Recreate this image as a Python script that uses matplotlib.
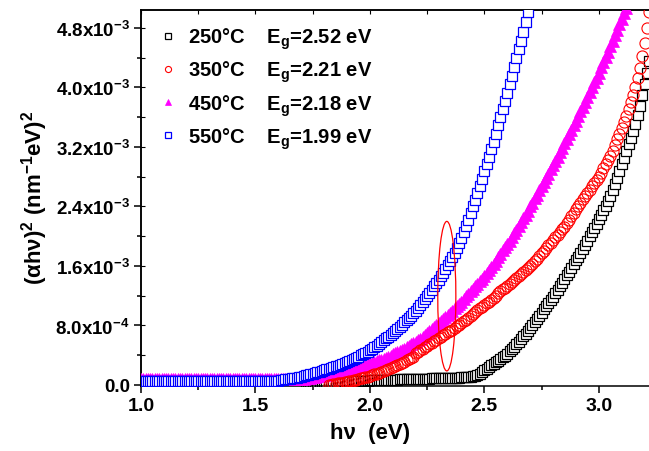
import numpy as np
import matplotlib
matplotlib.use('Agg')
import matplotlib.pyplot as plt
from matplotlib.patches import Ellipse
from matplotlib.ticker import FixedLocator

plt.rcParams['font.family'] = ['Liberation Sans', 'DejaVu Sans']
plt.rcParams['font.weight'] = 'bold'
plt.rcParams['mathtext.fontset'] = 'custom'
plt.rcParams['mathtext.rm'] = 'Liberation Sans:bold'
plt.rcParams['mathtext.it'] = 'Liberation Sans:bold'
plt.rcParams['mathtext.bf'] = 'Liberation Sans:bold'
plt.rcParams['mathtext.default'] = 'rm'

# photon energy grid: first point (eV) and step of the readings
step = 0.01

# 250 C, starts at 1.72 eV, values in 1e-3 units
start_250 = 1.72
y_250 = [0.000, 0.002, 0.004, 0.006, 0.008, 0.010, 0.012, 0.015,
         0.018, 0.021, 0.024, 0.027, 0.030, 0.033, 0.035, 0.037, 0.039, 0.041,
         0.043, 0.045, 0.047, 0.049, 0.051, 0.053, 0.055, 0.057, 0.059, 0.060,
         0.061, 0.062, 0.063, 0.064, 0.065, 0.066, 0.067, 0.068, 0.069, 0.070,
         0.071, 0.072, 0.073, 0.074, 0.075, 0.076, 0.077, 0.078, 0.079, 0.080,
         0.081, 0.082, 0.083, 0.084, 0.085, 0.086, 0.087, 0.088, 0.089, 0.090,
         0.091, 0.092, 0.093, 0.094, 0.095, 0.096, 0.097, 0.098, 0.099, 0.100,
         0.101, 0.103, 0.105, 0.108, 0.112, 0.118, 0.126, 0.137, 0.152, 0.172,
         0.195, 0.218, 0.240, 0.262, 0.284, 0.305, 0.327, 0.349, 0.372, 0.396,
         0.420, 0.451, 0.482, 0.514, 0.546, 0.580, 0.616, 0.652, 0.690, 0.728,
         0.768, 0.808, 0.848, 0.890, 0.932, 0.974, 1.016, 1.058, 1.100, 1.142,
         1.184, 1.232, 1.280, 1.328, 1.376, 1.424, 1.474, 1.524, 1.574, 1.624,
         1.674, 1.726, 1.778, 1.832, 1.886, 1.940, 1.996, 2.052, 2.110, 2.168,
         2.226, 2.286, 2.348, 2.412, 2.478, 2.546, 2.616, 2.700, 2.786, 2.874,
         2.964, 3.054, 3.144, 3.234, 3.324, 3.414, 3.504, 3.630, 3.756, 3.900,
         4.050, 4.200, 4.350]

# 350 C, starts at 1.82 eV
start_350 = 1.82
y_350 = [0.000, 0.005, 0.010, 0.015, 0.020, 0.025, 0.030, 0.035,
         0.040, 0.048, 0.056, 0.064, 0.072, 0.080, 0.088, 0.096, 0.104, 0.112,
         0.120, 0.131, 0.142, 0.154, 0.166, 0.178, 0.190, 0.202, 0.215, 0.228,
         0.240, 0.255, 0.270, 0.285, 0.300, 0.315, 0.330, 0.350, 0.365, 0.380,
         0.428, 0.450, 0.470, 0.490, 0.510, 0.530, 0.550, 0.570, 0.590, 0.610,
         0.630, 0.649, 0.668, 0.687, 0.706, 0.725, 0.744, 0.766, 0.788, 0.810,
         0.832, 0.855, 0.880, 0.905, 0.930, 0.955, 0.980, 1.005, 1.030, 1.050,
         1.070, 1.096, 1.122, 1.149, 1.175, 1.201, 1.231, 1.260, 1.284, 1.309,
         1.333, 1.357, 1.381, 1.408, 1.434, 1.466, 1.492, 1.518, 1.544, 1.570,
         1.600, 1.630, 1.662, 1.697, 1.731, 1.768, 1.804, 1.841, 1.875, 1.912,
         1.948, 1.984, 2.020, 2.056, 2.093, 2.130, 2.176, 2.222, 2.268, 2.314,
         2.360, 2.405, 2.450, 2.494, 2.538, 2.582, 2.626, 2.670, 2.714, 2.758,
         2.800, 2.856, 2.912, 2.968, 3.024, 3.080, 3.150, 3.220, 3.300, 3.380,
         3.460, 3.540, 3.620, 3.710, 3.800, 3.900, 4.010, 4.130, 4.260, 4.420,
         4.600, 4.800, 5.020]

# 450 C, starts at 1.00 eV
start_450 = 1.00
y_450 = [0.08, 0.08, 0.08, 0.08, 0.08, 0.08, 0.08, 0.08, 0.08, 0.08,
         0.08, 0.08, 0.08, 0.08, 0.08, 0.08, 0.08, 0.08, 0.08, 0.08,
         0.08, 0.08, 0.08, 0.08, 0.08, 0.08, 0.08, 0.08, 0.08, 0.08,
         0.08, 0.08, 0.08, 0.08, 0.08, 0.08, 0.08, 0.08, 0.08, 0.08,
         0.08, 0.08, 0.08, 0.08, 0.08, 0.08, 0.08, 0.08, 0.08, 0.08,
         0.08, 0.08, 0.08, 0.08, 0.08, 0.08, 0.08, 0.08, 0.08, 0.08,
         0.08, 0.08, 0.08, 0.08, 0.08, 0.08, 0.08, 0.08, 0.08, 0.08,
         0.08, 0.085, 0.09, 0.095, 0.10, 0.105, 0.11, 0.12, 0.12, 0.13,
         0.13, 0.14, 0.15, 0.155, 0.16, 0.17, 0.18, 0.185, 0.19, 0.20,
         0.21, 0.22, 0.225, 0.23, 0.24, 0.25, 0.26, 0.265, 0.27, 0.28,
         0.29, 0.30, 0.31, 0.32, 0.33, 0.34, 0.35, 0.365, 0.38, 0.395,
         0.41, 0.425, 0.44, 0.46, 0.475, 0.49, 0.51, 0.53, 0.545, 0.56,
         0.58, 0.60, 0.62, 0.645, 0.67, 0.70, 0.725, 0.75, 0.775, 0.80,
         0.83, 0.86, 0.885, 0.91, 0.94, 0.97, 1.00, 1.03, 1.06, 1.09,
         1.12, 1.15, 1.19, 1.22, 1.26, 1.29, 1.33, 1.36, 1.40, 1.43,
         1.47, 1.51, 1.55, 1.59, 1.63, 1.67, 1.72, 1.76, 1.81, 1.85,
         1.90, 1.94, 1.99, 2.04, 2.09, 2.14, 2.19, 2.24, 2.29, 2.34,
         2.40, 2.45, 2.51, 2.56, 2.62, 2.67, 2.73, 2.78, 2.84, 2.90,
         2.96, 3.01, 3.07, 3.13, 3.19, 3.25, 3.31, 3.37, 3.43, 3.49,
         3.55, 3.61, 3.68, 3.74, 3.81, 3.87, 3.94, 4.00, 4.07, 4.13,
         4.20, 4.27, 4.34, 4.41, 4.48, 4.55, 4.62, 4.70, 4.77, 4.85,
         4.92, 5.00, 5.07]

# 550 C, starts at 1.00 eV
start_550 = 1.00
y_550 = [0.05, 0.05, 0.05, 0.05, 0.05, 0.05, 0.05, 0.05, 0.05, 0.05,
         0.05, 0.05, 0.05, 0.05, 0.05, 0.05, 0.05, 0.05, 0.05, 0.05,
         0.05, 0.05, 0.05, 0.05, 0.05, 0.05, 0.05, 0.05, 0.05, 0.05,
         0.05, 0.05, 0.05, 0.05, 0.05, 0.05, 0.05, 0.05, 0.05, 0.05,
         0.05, 0.05, 0.05, 0.05, 0.05, 0.05, 0.05, 0.05, 0.05, 0.05,
         0.05, 0.05, 0.05, 0.05, 0.05, 0.05, 0.05, 0.05, 0.05,
         0.055, 0.06, 0.065, 0.07, 0.075, 0.08, 0.085, 0.09, 0.095, 0.10,
         0.105, 0.11, 0.12, 0.13, 0.14, 0.145, 0.15, 0.16, 0.17, 0.18,
         0.19, 0.20, 0.21, 0.22, 0.23, 0.24, 0.25, 0.26, 0.27,
         0.285, 0.30, 0.31, 0.325, 0.34, 0.35, 0.365, 0.38, 0.40, 0.415,
         0.43, 0.45, 0.47, 0.49, 0.51, 0.53, 0.55, 0.575, 0.60, 0.625,
         0.65, 0.675, 0.70, 0.73, 0.755, 0.785, 0.81, 0.84, 0.87, 0.90,
         0.93, 0.965, 1.00, 1.035, 1.07, 1.11, 1.15, 1.19, 1.235, 1.28,
         1.325, 1.37, 1.415, 1.46, 1.51, 1.56, 1.61, 1.66, 1.72, 1.78,
         1.84, 1.91, 1.98, 2.06, 2.14, 2.22, 2.31, 2.40, 2.49, 2.58,
         2.67, 2.77, 2.87, 2.97, 3.07, 3.17, 3.27, 3.38, 3.49, 3.60,
         3.71, 3.82, 3.93, 4.04, 4.15, 4.27, 4.39, 4.51, 4.63, 4.75,
         4.88, 5.01, 5.14]

labels = ['250\u00b0C    E$_{g}$=2.52 eV', '350\u00b0C    E$_{g}$=2.21 eV',
          '450\u00b0C    E$_{g}$=2.18 eV', '550\u00b0C    E$_{g}$=1.99 eV']

xticks = [1.0, 1.5, 2.0, 2.5, 3.0]
xticklabels = ['1.0', '1.5', '2.0', '2.5', '3.0']
yticks = [0.0, 0.8e-3, 1.6e-3, 2.4e-3, 3.2e-3, 4.0e-3, 4.8e-3]
yticklabels = ['0.0', '8.0x10$^{-4}$', '1.6x10$^{-3}$', '2.4x10$^{-3}$',
               '3.2x10$^{-3}$', '4.0x10$^{-3}$', '4.8x10$^{-3}$']

# ellipse marking the region (centre hv, centre y, width, height)
ell_center = (2.336, 1.194e-3)
ell_size = (0.079, 2.01e-3)


def energies(start, vals):
    return start + step * np.arange(len(vals))


fig = plt.figure(figsize=(6.49, 4.52), dpi=100)
ax = fig.add_axes([0.2173, 0.1445, 0.7935, 0.8319])

h250, = ax.plot(energies(start_250, y_250), np.array(y_250) * 1e-3, ls='none', marker='s',
                ms=7.2, mfc='white', mec='black', mew=0.9, zorder=2)
h450, = ax.plot(energies(start_450, y_450), np.array(y_450) * 1e-3, ls='none', marker='^',
                ms=8.5, mfc='#ff00ff', mec='#ff00ff', mew=0.5, zorder=3)
h350, = ax.plot(energies(start_350, y_350), np.array(y_350) * 1e-3, ls='none', marker='o',
                ms=8.0, mfc='none', mec='#ff0000', mew=0.8, zorder=4)
h550, = ax.plot(energies(start_550, y_550), np.array(y_550) * 1e-3, ls='none', marker='s',
                ms=7.2, mfc='white', mec='#0000ff', mew=0.9, zorder=5)

ax.add_patch(Ellipse(ell_center, ell_size[0], ell_size[1], fill=False,
                     ec='#ff0000', lw=0.9, zorder=6))

ax.set_xlim(1.0, 3.25)
ax.set_ylim(-0.0094e-3, 5.045e-3)

ax.set_xticks(xticks)
ax.set_xticklabels(xticklabels, fontsize=14, fontweight='bold')
ax.xaxis.set_minor_locator(FixedLocator([1.25, 1.75, 2.25, 2.75, 3.25]))
ax.set_yticks(yticks)
ax.set_yticklabels(yticklabels, fontsize=13.5, fontweight='bold')
ax.yaxis.set_minor_locator(FixedLocator([0.4e-3, 1.2e-3, 2.0e-3, 2.8e-3, 3.6e-3, 4.4e-3]))
ax.tick_params(which='major', direction='out', length=5, width=1.1, pad=3)
ax.tick_params(which='minor', direction='out', length=3, width=1.1)
ax.tick_params(top=False, right=False)
for s in ax.spines.values():
    s.set_linewidth(1.1)
ax.spines['right'].set_visible(False)

top = ax.secondary_xaxis('top')
top.set_xticks([1.0, 1.25, 1.5, 1.75, 2.0, 2.25, 2.5, 2.75, 3.0])
top.tick_params(direction='in', length=3, width=0.8, labeltop=False)
top.spines['top'].set_linewidth(1.1)
left = ax.secondary_yaxis('left')
left.set_yticks([0.4e-3, 0.8e-3, 1.2e-3, 1.6e-3, 2.0e-3, 2.4e-3, 2.8e-3, 3.2e-3, 3.6e-3, 4.0e-3, 4.4e-3, 4.8e-3])
left.tick_params(direction='in', length=3, width=0.8, labelleft=False)
left.spines['left'].set_linewidth(1.1)

ax.set_xlabel('h\u03bd  (eV)', fontsize=16, fontweight='bold')
ax.xaxis.set_label_coords(0.445, -0.0965)
ax.set_ylabel('(\u03b1h\u03bd)$^{2}$ (nm$^{-1}$eV)$^{2}$', fontsize=16, fontweight='bold')
ax.yaxis.set_label_coords(-0.176, 0.502)

ax.legend([h250, h350, h450, h550], labels, loc='upper left',
          bbox_to_anchor=(0.033, 0.957), frameon=False,
          markerscale=0.55, handlelength=1.0, handletextpad=0.5,
          labelspacing=0.38, borderpad=0, borderaxespad=0,
          prop={'weight': 'bold', 'size': 14.5})

fig.savefig('out.png', dpi=100)
